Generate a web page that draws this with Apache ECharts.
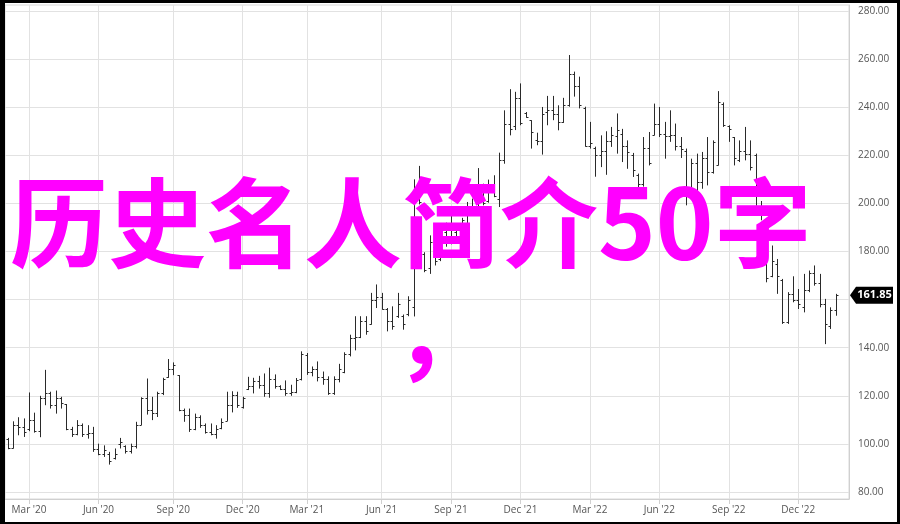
<!DOCTYPE html>
<html><head><meta charset="utf-8">
<script src="https://cdn.jsdelivr.net/npm/echarts@6/dist/echarts.min.js"></script>
<style>
html,body{margin:0;padding:0;background:#fff;}
#wrap{position:relative;width:900px;height:524px;overflow:hidden;}
#chart{position:absolute;left:0;top:0;width:900px;height:524px;}
#frame{position:absolute;left:0;top:0;width:900px;height:524px;box-sizing:border-box;border-style:solid;border-color:#000;border-width:3px 3px 2px 5px;pointer-events:none;}
</style></head><body>
<div id="wrap"><div id="chart"></div><div id="frame"></div></div>
<script>
// Weekly categories (week starting dates)
const weeks = [
'2020-02-03','2020-02-10','2020-02-17','2020-02-24','2020-03-02','2020-03-09','2020-03-16','2020-03-23','2020-03-30',
'2020-04-06','2020-04-13','2020-04-20','2020-04-27','2020-05-04','2020-05-11','2020-05-18','2020-05-25',
'2020-06-01','2020-06-08','2020-06-15','2020-06-22','2020-06-29','2020-07-06','2020-07-13','2020-07-20','2020-07-27',
'2020-08-03','2020-08-10','2020-08-17','2020-08-24','2020-08-31','2020-09-07','2020-09-14','2020-09-21','2020-09-28',
'2020-10-05','2020-10-12','2020-10-19','2020-10-26','2020-11-02','2020-11-09','2020-11-16','2020-11-23','2020-11-30',
'2020-12-07','2020-12-14','2020-12-21','2020-12-28',
'2021-01-04','2021-01-11','2021-01-18','2021-01-25','2021-02-01','2021-02-08','2021-02-15','2021-02-22',
'2021-03-01','2021-03-08','2021-03-15','2021-03-22','2021-03-29','2021-04-05','2021-04-12','2021-04-19','2021-04-26',
'2021-05-03','2021-05-10','2021-05-17','2021-05-24','2021-05-31','2021-06-07','2021-06-14','2021-06-21','2021-06-28',
'2021-07-05','2021-07-12','2021-07-19','2021-07-26','2021-08-02','2021-08-09','2021-08-16','2021-08-23','2021-08-30',
'2021-09-06','2021-09-13','2021-09-20','2021-09-27','2021-10-04','2021-10-11','2021-10-18','2021-10-25',
'2021-11-01','2021-11-08','2021-11-15','2021-11-22','2021-11-29','2021-12-06','2021-12-13','2021-12-20','2021-12-27',
'2022-01-03','2022-01-10','2022-01-17','2022-01-24','2022-01-31','2022-02-07','2022-02-14','2022-02-21','2022-02-28',
'2022-03-07','2022-03-14','2022-03-21','2022-03-28','2022-04-04','2022-04-11','2022-04-18','2022-04-25',
'2022-05-02','2022-05-09','2022-05-16','2022-05-23','2022-05-30','2022-06-06','2022-06-13','2022-06-20','2022-06-27',
'2022-07-04','2022-07-11','2022-07-18','2022-07-25','2022-08-01','2022-08-08','2022-08-15','2022-08-22','2022-08-29',
'2022-09-05','2022-09-12','2022-09-19','2022-09-26','2022-10-03','2022-10-10','2022-10-17','2022-10-24','2022-10-31',
'2022-11-07','2022-11-14','2022-11-21','2022-11-28','2022-12-05','2022-12-12','2022-12-19','2022-12-26',
'2023-01-02','2023-01-09','2023-01-16','2023-01-23','2023-01-30','2023-02-06'
];

const opens = [
102,98.5,108,107,106,110,105.5,119,121,116,
119,116.5,106,104,108,104,104.5,98,96,96,
94,100,99,97,99,108,119,114,113,121,
128,131,128.5,114,112,106,111,108,105,104,
106.5,109.5,116,120.5,115.5,123,124,126,124.5,121,
127,124,123,121,121.5,127,137,130,131,128,
127,121,127,130,137.5,144,144.5,151,150,160,
161,156,151,153,153,154,157,206,179,173,
182,177,188,185,188,187,192,199,200,201,
201,207,202,218,233,232,244,237.5,234.5,226.5,
226,238,239,237,234,241,254,249,239.5,224,
223,220,222,226,228,229,224,220,212,208,
223,228.5,233,229,228,228.5,224,222,205,217,
209,219,213,216,241.5,232,227.5,218,222,220.5,
220,199,193,170,175,168,150.5,162.5,160,157,
164,171,167,158,149,155.5
];
const highs = [
102.5,109.4,111.1,110.6,121.4,113,120,130.8,121.7,122.2,
119.6,116.6,107.1,109.9,108.5,107.8,107.1,100.1,99.4,96.7,
98.1,102.5,99.4,100.1,109.2,119.4,127.2,119.6,121.7,127.5,
135.3,133.9,128.6,114.7,114.7,112.6,111.9,108.5,108.5,107.8,
110.6,121.7,121.9,121.7,119.6,127.9,127.5,128.3,129.3,131.7,
128.9,124.4,126.4,124.6,127.4,138.5,137.8,132.2,134.3,130.1,
128.1,128.1,133.3,138.1,145.4,153.1,153.1,153.1,162.8,166.3,
162.8,156.5,157.2,162.8,153.8,161.4,210,215.6,179.7,186.7,
183.9,190,192,195,190,194,200.6,202,214.7,208.2,
209.9,211.7,221.1,238.7,247.5,246.4,249.9,238,234.6,229.4,
240.1,244.7,244.7,240.8,243.9,261.7,254.8,252.7,240.2,233.9,
223.6,228.3,230,231.8,237.4,231,226.2,221,212.4,227.6,
229.7,241.5,240.1,233.9,238.7,233.2,227.6,222.8,218.6,220.7,
221.4,227.6,226.2,246.7,242,232.5,227.6,226.2,231.8,226.2,
220.7,201,193.6,182.5,176.9,168.6,163.1,169.7,164.4,170.7,
172.1,174.2,170.7,160.3,156.8,162.4
];
const lows = [
97.8,98.1,103.6,102.9,105.3,104.7,102.8,116.1,114.7,112.6,
114.7,105.7,102.9,103.6,102.9,102.2,96.7,95.3,94.6,91.4,
93.5,98.1,96,96,98.1,107.8,112.2,109.9,111.2,120.3,
127.5,128.6,113.6,109.2,105,105.7,106.7,104.3,103.6,102.2,
106.1,109.5,113.1,115,114.7,122.4,121,123,119.6,119.2,
123,122.4,120,120,121.1,126.4,128.7,128.1,126,124.6,
120.4,120.4,125.6,129.4,136.4,138.9,144,145.4,149.6,156.5,
155.8,146.8,147.5,152.4,147.5,153.1,153,199.6,171.4,170.7,
174.2,176,182,183,184.5,186,190.8,195,197.8,199.2,
200.3,202.6,198.5,216.5,228.3,230.5,232.5,235.6,222.8,224.2,
220.3,232.5,234.6,230.4,233.5,240.2,244.4,239.5,223.6,222.8,
211.1,215.1,211.9,223.5,220.7,217.2,214.4,211,205.4,207,
215.8,228.3,227.6,218.6,225.6,222,218.9,199.2,204.3,204,
206.1,207.5,212.4,215.8,231.8,225.6,215.8,217.2,217.9,213.7,
199,193,167.2,169.3,162.4,149.9,149.9,158.9,156.1,154.7,
163.1,165.8,156.8,141.5,147.8,153.3
];
const closes = [
98.5,108,107,105,110,105.5,119,121,116,119,
117,106,104,108,104,104.5,98,96,97.5,93,
96,101,97,99,108,119,114,113,121,127,
131,133,114,112,106,111,108,105,104,106,
109,116,120.5,116,119,124,126,124.5,121,127,
124,123,121,121.5,126.5,137.5,130,131,128,127,
121,127,131,137.5,144,144.5,151,147,160,161,
156,151,149,158,150,160,206,200.5,172.5,184,
176,188,185,191.5,186,193,199,196,201,200,
207,203,218,233,231,244,233.5,236,229.5,226,
237,239,237,234,241,254,249,241,224,225,
220,222,226,228.5,230.5,224,221.5,214,208,223,
217,233,229,228,228.5,224,222.5,205,217,209,
219,213,225.5,242,232.5,231,219,222,220.5,215,
205,196,169,176,170,150.5,162.5,160,158,164,
171,167,158,150,155.5,161.85
];

const yTicks = [80,100,120,140,160,180,200,220,240,260,280];
const monthNames = ['Jan','Feb','Mar','Apr','May','Jun','Jul','Aug','Sep','Oct','Nov','Dec'];
const overlayTitle = '历史名人简介50字';
const overlayComma = '，';

const data = opens.map((o, i) => [i, o, highs[i], lows[i], closes[i]]);

function isQuarterStart(idx) {
  const d = weeks[idx];
  if (!d) return false;
  const m = +d.slice(5, 7), day = +d.slice(8, 10);
  return (m === 3 || m === 6 || m === 9 || m === 12) && day <= 7;
}
function fmtDate(d) {
  return monthNames[+d.slice(5, 7) - 1] + " '" + d.slice(2, 4);
}

const chart = echarts.init(document.getElementById('chart'), null, {renderer: 'canvas'});
const gridColor = '#e2e2e2';
const titleFont = 'bold 98px "Noto Sans CJK SC"';
const overlayGraphics = [
  {type: 'text', left: 10, top: 174, z: 100, style: {text: overlayTitle, font: titleFont, fill: '#ff00ff'}},
  {type: 'text', left: 394, top: 283, z: 100, style: {text: overlayComma, font: titleFont, fill: '#ff00ff'}}
];
const option = {
  animation: false,
  backgroundColor: '#fff',
  grid: {left: 5, right: 51, top: 5, bottom: 25, show: true, borderColor: '#d8d8d8', borderWidth: 1},
  xAxis: {
    type: 'category',
    data: weeks,
    boundaryGap: true,
    axisLine: {show: true, lineStyle: {color: '#d0d0d0'}},
    axisTick: {show: true, alignWithLabel: true, interval: (i) => isQuarterStart(i), length: 5, lineStyle: {color: '#d0d0d0'}},
    axisLabel: {interval: (i) => isQuarterStart(i), formatter: fmtDate, color: '#555', fontFamily: 'Open Sans', fontSize: 10, margin: 6},
    splitLine: {show: true, alignWithLabel: true, interval: (i) => isQuarterStart(i), lineStyle: {color: gridColor, width: 1}}
  },
  yAxis: {
    type: 'value',
    position: 'right',
    min: 77.1,
    max: 282.5,
    scale: true,
    axisLine: {show: true, lineStyle: {color: '#d0d0d0'}},
    axisTick: {show: false, customValues: yTicks},
    axisLabel: {customValues: yTicks, formatter: (v) => v.toFixed(2), color: '#555', fontFamily: 'Open Sans', fontSize: 10, margin: 9, align: 'left'},
    splitLine: {show: true, lineStyle: {color: gridColor, width: 1}}
  },
  series: [{
    type: 'custom',
    data: data,
    encode: {x: 0, y: [1, 2, 3, 4]},
    renderItem: function (params, api) {
      const idx = api.value(0);
      const pO = api.coord([idx, api.value(1)]);
      const pH = api.coord([idx, api.value(2)]);
      const pL = api.coord([idx, api.value(3)]);
      const pC = api.coord([idx, api.value(4)]);
      const x = Math.round(pH[0]) + 0.5;
      const st = {stroke: '#2a2a2a', lineWidth: 1};
      return {
        type: 'group',
        children: [
          {type: 'line', shape: {x1: x, y1: pH[1], x2: x, y2: pL[1]}, style: st},
          {type: 'line', shape: {x1: x - 2, y1: Math.round(pO[1]) + 0.5, x2: x, y2: Math.round(pO[1]) + 0.5}, style: st},
          {type: 'line', shape: {x1: x, y1: Math.round(pC[1]) + 0.5, x2: x + 2, y2: Math.round(pC[1]) + 0.5}, style: st}
        ]
      };
    }
  }],
  graphic: overlayGraphics
};
chart.setOption(option);

// last price tag placed through the y scale
const lastClose = closes[closes.length - 1];
const yPix = chart.convertToPixel({yAxisIndex: 0}, lastClose);
const tagLeft = 850, tagH = 17, tagW = 43;
chart.setOption({
  graphic: overlayGraphics.concat([
    {type: 'polygon', z: 101, shape: {points: [[tagLeft, yPix], [tagLeft + 6, yPix - tagH / 2], [tagLeft + tagW, yPix - tagH / 2], [tagLeft + tagW, yPix + tagH / 2], [tagLeft + 6, yPix + tagH / 2]]}, style: {fill: '#000'}},
    {type: 'text', z: 102, x: tagLeft + 6 + (tagW - 6) / 2, y: yPix, style: {text: lastClose.toFixed(2), font: 'bold 11px "Open Sans"', fill: '#fff', textAlign: 'center', textVerticalAlign: 'middle'}}
  ])
});
</script>
</body></html>
